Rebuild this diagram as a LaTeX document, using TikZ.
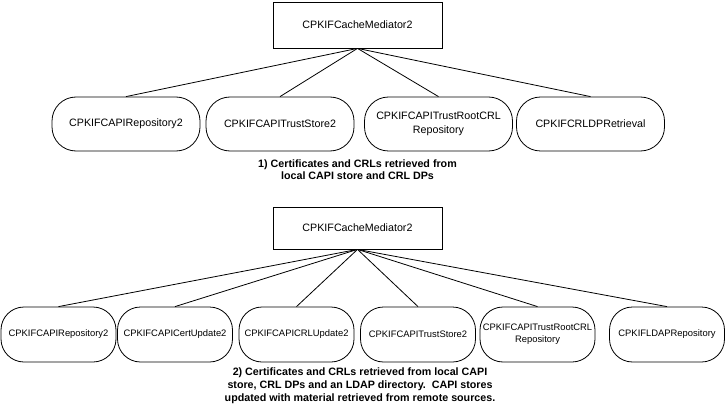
\documentclass[tikz,border=0pt]{standalone}
\usepackage{fontspec}
\setmainfont{Liberation Sans}
\usepackage{tikz}

\begin{document}
\begin{tikzpicture}[x=1pt,y=-1pt,
  every node/.style={font=\fontsize{10.7}{13.5}\selectfont},
  mediator/.style={rectangle,draw,line width=0.8pt,minimum width=169pt,
                   minimum height=46pt,inner sep=0pt},
  store/.style={rectangle,draw,rounded corners=24pt,line width=0.8pt,
                minimum width=148pt,minimum height=54pt,inner sep=0pt,
                align=center},
  smallstore/.style={store,minimum width=115pt,minimum height=55pt,
                     rounded corners=23pt,font=\fontsize{9.4}{12}\selectfont},
  link/.style={line width=0.8pt},
  caption/.style={align=center,font=\bfseries\fontsize{10.7}{12}\selectfont}]
\useasboundingbox (0,0) rectangle (727,406);
\begin{scope}
  \node[mediator] (m1) at (357.5,25) {CPKIFCacheMediator2};
  \node[store] (a1) at (126,124) {CPKIFCAPIRepository2};
  \node[store] (a2) at (280,124) {CPKIFCAPITrustStore2};
  \node[store] (a3) at (438.5,124) {CPKIFCAPITrustRootCRL\\Repository};
  \node[store] (a4) at (590.5,124) {CPKIFCRLDPRetrieval};
  \draw[link] (m1.south) -- (a1.north);
  \draw[link] (m1.south) -- (a2.north);
  \draw[link] (m1.south) -- (a3.north);
  \draw[link] (m1.south) -- (a4.north);
  \node[caption] (c1) at (357.5,169.5)
      {1) Certificates and CRLs retrieved from\\local CAPI store and CRL DPs};
\end{scope}
\begin{scope}
  \node[mediator,minimum height=42pt] (m2) at (357.5,228) {CPKIFCacheMediator2};
  \node[smallstore] (b1) at (58.5,334.5) {CPKIFCAPIRepository2};
  \node[smallstore] (b2) at (175,334.5) {CPKIFCAPICertUpdate2};
  \node[smallstore] (b3) at (296.5,334.5) {CPKIFCAPICRLUpdate2};
  \node[smallstore] (b4) at (418,334.5) {CPKIFCAPITrustStore2};
  \node[smallstore] (b5) at (537.5,334.5) {CPKIFCAPITrustRootCRL\\Repository};
  \node[smallstore] (b6) at (667,334.5) {CPKIFLDAPRepository};
  \draw[link] (m2.south) -- (b1.north);
  \draw[link] (m2.south) -- (b2.north);
  \draw[link] (m2.south) -- (b3.north);
  \draw[link] (m2.south) -- (b4.north);
  \draw[link] (m2.south) -- (b5.north);
  \draw[link] (m2.south) -- (b6.north);
  \node[caption,font=\bfseries\fontsize{10.7}{13}\selectfont] (c2) at (360,386)
      {2) Certificates and CRLs retrieved from local CAPI\\store, CRL DPs and an LDAP directory.\ \ CAPI stores\\updated with material retrieved from remote sources.};
\end{scope}
\end{tikzpicture}
\end{document}
